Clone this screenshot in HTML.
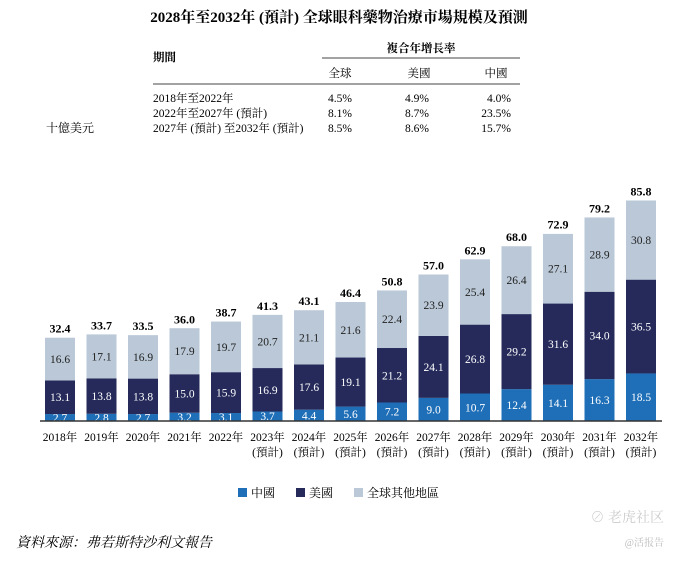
<!DOCTYPE html>
<html><head><meta charset="utf-8"><style>
body{margin:0;background:#fff;width:678px;height:556px;overflow:hidden;font-family:"Liberation Serif","Noto Serif CJK SC","Noto Sans CJK TC",serif;color:#222}
svg text{font-family:"Liberation Serif","Noto Serif CJK SC","Noto Sans CJK TC",serif}
</style></head><body>
<svg width="678" height="556">
<text x="339" y="22" text-anchor="middle" font-size="15" font-weight="bold">2028年至2032年 (預計) 全球眼科藥物治療市場規模及預測</text>
<g font-size="11.5">
<text x="153" y="61" font-weight="bold">期間</text>
<text x="421" y="52" text-anchor="middle" font-weight="bold">複合年增長率</text>
<line x1="322" y1="58" x2="520" y2="58" stroke="#444" stroke-width="1"/>
<text x="340" y="77" text-anchor="middle">全球</text>
<text x="419" y="77" text-anchor="middle">美國</text>
<text x="496" y="77" text-anchor="middle">中國</text>
<line x1="153" y1="84" x2="520" y2="84" stroke="#444" stroke-width="1"/>
<text x="153" y="102">2018年至2022年</text><text x="328" y="102">4.5%</text><text x="405" y="102">4.9%</text><text x="511" y="102" text-anchor="end">4.0%</text>
<text x="153" y="117">2022年至2027年 (預計)</text><text x="328" y="117">8.1%</text><text x="405" y="117">8.7%</text><text x="511" y="117" text-anchor="end">23.5%</text>
<text x="153" y="132">2027年 (預計) 至2032年 (預計)</text><text x="328" y="132">8.5%</text><text x="405" y="132">8.6%</text><text x="511" y="132" text-anchor="end">15.7%</text>
</g>
<text x="46" y="132" font-size="12">十億美元</text>
<g id="bars"></g>
<line x1="40" y1="421" x2="662" y2="421" stroke="#333" stroke-width="1.5"/>
<g font-size="12">
<rect x="238" y="488" width="9" height="9" fill="#1f6fb8"/><text x="251" y="497">中國</text>
<rect x="296" y="488" width="9" height="9" fill="#252a5a"/><text x="309" y="497">美國</text>
<rect x="354" y="488" width="9" height="9" fill="#bac8d7"/><text x="367" y="497">全球其他地區</text>
</g>
<text x="16" y="547" font-size="14" font-style="italic">資料來源：弗若斯特沙利文報告</text>
<text x="664" y="522" text-anchor="end" font-size="14" fill="#ccc">⊘ 老虎社区</text>
<text x="664" y="546" text-anchor="end" font-size="10" fill="#bbb">@活报告</text>
</svg>
<script>
const years=["2018年","2019年","2020年","2021年","2022年","2023年","2024年","2025年","2026年","2027年","2028年","2029年","2030年","2031年","2032年"];
const forecast=[false,false,false,false,false,true,true,true,true,true,true,true,true,true,true];
const china=[2.7,2.8,2.7,3.2,3.1,3.7,4.4,5.6,7.2,9.0,10.7,12.4,14.1,16.3,18.5];
const us=[13.1,13.8,13.8,15.0,15.9,16.9,17.6,19.1,21.2,24.1,26.8,29.2,31.6,34.0,36.5];
const rest=[16.6,17.1,16.9,17.9,19.7,20.7,21.1,21.6,22.4,23.9,25.4,26.4,27.1,28.9,30.8];
const totals=[32.4,33.7,33.5,36.0,38.7,41.3,43.1,46.4,50.8,57.0,62.9,68.0,72.9,79.2,85.8];
const NS="http://www.w3.org/2000/svg";
const g=document.getElementById('bars');
const base=421,k=2.57,x0=60,step=41.5,bw=30;
const yv=v=>base-v*k;
const xc=i=>x0+i*step;
function mk(t,a){const e=document.createElementNS(NS,t);for(const n in a)e.setAttribute(n,a[n]);g.appendChild(e);return e;}
years.forEach((yr,i)=>{
  const segs=[[china[i],'#1f6fb8','#fff','china'],[us[i],'#252a5a','#fff','us'],[rest[i],'#bac8d7','#222','rest']];
  let acc=0;
  segs.forEach(s=>{
    const r=mk('rect',{x:xc(i)-bw/2,y:yv(acc+s[0]),width:bw,height:s[0]*k,fill:s[1]});
    
    
    const t=mk('text',{x:xc(i),y:yv(acc+s[0]/2)+4,'text-anchor':'middle','font-size':11.5,fill:s[2]});
    t.textContent=s[0].toFixed(1);
    
    
    acc+=s[0];
  });
  const tt=mk('text',{x:xc(i),y:yv(totals[i])-5,'text-anchor':'middle','font-size':12,'font-weight':'bold'});
  tt.textContent=totals[i].toFixed(1);
  
  
  const yl=mk('text',{x:xc(i),y:441,'text-anchor':'middle','font-size':11.5});
  yl.textContent=yr;
  
  
  if(forecast[i]){
    const f=mk('text',{x:xc(i),y:456,'text-anchor':'middle','font-size':11.5});
    f.textContent='(預計)';
    
    
  }
});
</script>
</body></html>
